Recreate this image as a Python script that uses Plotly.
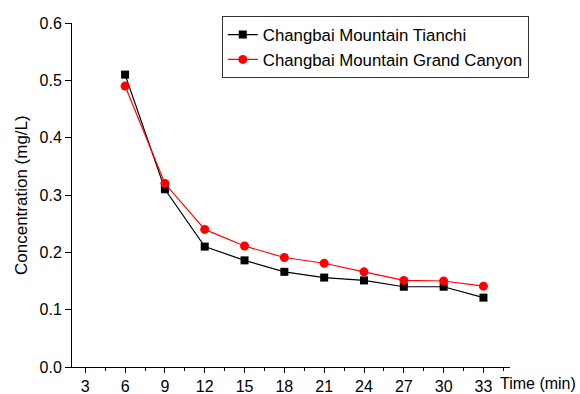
import plotly.graph_objects as go

time_min = [6, 9, 12, 15, 18, 21, 24, 27, 30, 33]
tianchi = [0.51, 0.31, 0.21, 0.186, 0.166, 0.156, 0.151, 0.14, 0.14, 0.121]
grand_canyon = [0.49, 0.32, 0.24, 0.211, 0.191, 0.181, 0.166, 0.151, 0.15, 0.141]
x_ticks = [3, 6, 9, 12, 15, 18, 21, 24, 27, 30, 33]
y_ticks = [0.0, 0.1, 0.2, 0.3, 0.4, 0.5, 0.6]

FONT = "Liberation Sans, Arial, sans-serif"

fig = go.Figure()
fig.add_trace(go.Scatter(
    x=time_min, y=tianchi, mode="lines+markers", name="Changbai Mountain Tianchi",
    line=dict(color="black", width=1.2),
    marker=dict(symbol="square", size=8, color="black"),
))
fig.add_trace(go.Scatter(
    x=time_min, y=grand_canyon, mode="lines+markers", name="Changbai Mountain Grand Canyon",
    line=dict(color="red", width=1.2),
    marker=dict(symbol="circle", size=9, color="red"),
))

fig.update_layout(
    width=580, height=394,
    margin=dict(l=72, r=70, t=23, b=27),
    paper_bgcolor="white", plot_bgcolor="white",
    font=dict(family=FONT, size=16, color="black"),
    showlegend=True,
    legend=dict(
        x=0.342, y=1.020, xanchor="left", yanchor="top",
        bordercolor="#333333", borderwidth=1, bgcolor="white",
        font=dict(family=FONT, size=16.8), tracegroupgap=0,
    ),
    xaxis=dict(
        range=[2, 35], tickvals=x_ticks, ticks="outside", ticklen=5,
        tickcolor="black", showline=True, linecolor="black", linewidth=1,
        showgrid=False, zeroline=False, automargin=False,
        minor=dict(dtick=1.5, tick0=0, ticks="outside", ticklen=3, tickcolor="black", showgrid=False),
        tickfont=dict(size=16),
    ),
    yaxis=dict(
        range=[0, 0.6], tickvals=y_ticks, tickformat=".1f", ticks="outside", ticklen=6,
        tickcolor="black", showline=True, linecolor="black", linewidth=1,
        showgrid=False, zeroline=False, automargin=False,
        tickfont=dict(size=16),
    ),
    annotations=[
        dict(
            text="Time (min)", xref="paper", yref="paper", x=(498 - 72) / 438, y=0,
            xanchor="left", yanchor="top", yshift=-6, showarrow=False,
            font=dict(size=16),
        ),
        dict(
            text="Concentration (mg/L)", xref="paper", yref="paper", x=(21 - 72) / 438,
            y=0.5, xanchor="center", yanchor="middle", textangle=-90, showarrow=False,
            font=dict(size=17),
        ),
    ],
)

fig.write_html(
    "out.html",
    config={"displayModeBar": False},
    post_script="document.body.style.margin='0';document.body.style.overflow='hidden';",
)
